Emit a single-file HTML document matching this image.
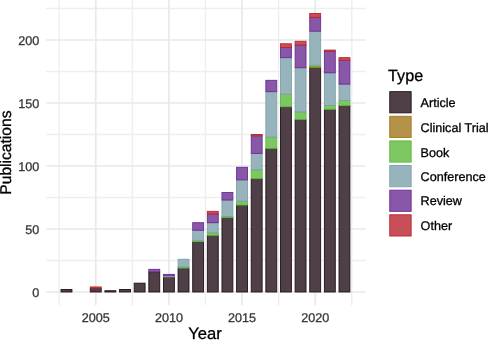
<!DOCTYPE html><html><head><meta charset="utf-8"><style>html,body{margin:0;padding:0;background:#fff;}svg{display:block;will-change:transform;filter:blur(0.3px);}text{font-family:"Liberation Sans",sans-serif;text-rendering:geometricPrecision;}</style></head><body>
<svg width="488" height="340" viewBox="0 0 488 340">
<rect width="488" height="340" fill="#fff"/>
<line x1="46.2" x2="365.5" y1="260.50" y2="260.50" stroke="#eeeeee" stroke-width="1.35"/>
<line x1="46.2" x2="365.5" y1="197.50" y2="197.50" stroke="#eeeeee" stroke-width="1.35"/>
<line x1="46.2" x2="365.5" y1="134.50" y2="134.50" stroke="#eeeeee" stroke-width="1.35"/>
<line x1="46.2" x2="365.5" y1="71.50" y2="71.50" stroke="#eeeeee" stroke-width="1.35"/>
<line x1="46.2" x2="365.5" y1="8.50" y2="8.50" stroke="#eeeeee" stroke-width="1.35"/>
<line x1="59.17" x2="59.17" y1="0.0" y2="305.2" stroke="#eeeeee" stroke-width="1.35"/>
<line x1="132.32" x2="132.32" y1="0.0" y2="305.2" stroke="#eeeeee" stroke-width="1.35"/>
<line x1="205.47" x2="205.47" y1="0.0" y2="305.2" stroke="#eeeeee" stroke-width="1.35"/>
<line x1="278.62" x2="278.62" y1="0.0" y2="305.2" stroke="#eeeeee" stroke-width="1.35"/>
<line x1="351.77" x2="351.77" y1="0.0" y2="305.2" stroke="#eeeeee" stroke-width="1.35"/>
<line x1="46.2" x2="365.5" y1="292.00" y2="292.00" stroke="#e9e9e9" stroke-width="1.7"/>
<line x1="46.2" x2="365.5" y1="229.00" y2="229.00" stroke="#e9e9e9" stroke-width="1.7"/>
<line x1="46.2" x2="365.5" y1="166.00" y2="166.00" stroke="#e9e9e9" stroke-width="1.7"/>
<line x1="46.2" x2="365.5" y1="103.00" y2="103.00" stroke="#e9e9e9" stroke-width="1.7"/>
<line x1="46.2" x2="365.5" y1="40.00" y2="40.00" stroke="#e9e9e9" stroke-width="1.7"/>
<line x1="95.75" x2="95.75" y1="0.0" y2="305.2" stroke="#e9e9e9" stroke-width="1.7"/>
<line x1="168.90" x2="168.90" y1="0.0" y2="305.2" stroke="#e9e9e9" stroke-width="1.7"/>
<line x1="242.05" x2="242.05" y1="0.0" y2="305.2" stroke="#e9e9e9" stroke-width="1.7"/>
<line x1="315.20" x2="315.20" y1="0.0" y2="305.2" stroke="#e9e9e9" stroke-width="1.7"/>
<rect x="61.04" y="289.48" width="10.90" height="2.52" fill="#4f4047" stroke="#231019" stroke-width="0.9"/>
<rect x="90.30" y="288.22" width="10.90" height="3.78" fill="#4f4047" stroke="#231019" stroke-width="0.9"/>
<rect x="90.30" y="286.96" width="10.90" height="1.26" fill="#c84f57" stroke="#ba232d" stroke-width="0.9"/>
<rect x="104.93" y="290.74" width="10.90" height="1.26" fill="#4f4047" stroke="#231019" stroke-width="0.9"/>
<rect x="119.56" y="289.48" width="10.90" height="2.52" fill="#4f4047" stroke="#231019" stroke-width="0.9"/>
<rect x="134.19" y="283.18" width="10.90" height="8.82" fill="#4f4047" stroke="#231019" stroke-width="0.9"/>
<rect x="148.82" y="271.84" width="10.90" height="20.16" fill="#4f4047" stroke="#231019" stroke-width="0.9"/>
<rect x="148.82" y="269.32" width="10.90" height="2.52" fill="#8857a8" stroke="#6a2d92" stroke-width="0.9"/>
<rect x="163.45" y="276.88" width="10.90" height="15.12" fill="#4f4047" stroke="#231019" stroke-width="0.9"/>
<rect x="163.45" y="275.62" width="10.90" height="1.26" fill="#97b3bb" stroke="#7da0aa" stroke-width="0.9"/>
<rect x="163.45" y="274.36" width="10.90" height="1.26" fill="#8857a8" stroke="#6a2d92" stroke-width="0.9"/>
<rect x="178.08" y="268.06" width="10.90" height="23.94" fill="#4f4047" stroke="#231019" stroke-width="0.9"/>
<rect x="178.08" y="266.80" width="10.90" height="1.26" fill="#7dc762" stroke="#5db93b" stroke-width="0.9"/>
<rect x="178.08" y="259.24" width="10.90" height="7.56" fill="#97b3bb" stroke="#7da0aa" stroke-width="0.9"/>
<rect x="192.71" y="241.60" width="10.90" height="50.40" fill="#4f4047" stroke="#231019" stroke-width="0.9"/>
<rect x="192.71" y="240.34" width="10.90" height="1.26" fill="#7dc762" stroke="#5db93b" stroke-width="0.9"/>
<rect x="192.71" y="230.26" width="10.90" height="10.08" fill="#97b3bb" stroke="#7da0aa" stroke-width="0.9"/>
<rect x="192.71" y="222.70" width="10.90" height="7.56" fill="#8857a8" stroke="#6a2d92" stroke-width="0.9"/>
<rect x="207.34" y="235.30" width="10.90" height="56.70" fill="#4f4047" stroke="#231019" stroke-width="0.9"/>
<rect x="207.34" y="232.78" width="10.90" height="2.52" fill="#7dc762" stroke="#5db93b" stroke-width="0.9"/>
<rect x="207.34" y="222.70" width="10.90" height="10.08" fill="#97b3bb" stroke="#7da0aa" stroke-width="0.9"/>
<rect x="207.34" y="213.88" width="10.90" height="8.82" fill="#8857a8" stroke="#6a2d92" stroke-width="0.9"/>
<rect x="207.34" y="211.36" width="10.90" height="2.52" fill="#c84f57" stroke="#ba232d" stroke-width="0.9"/>
<rect x="221.97" y="217.66" width="10.90" height="74.34" fill="#4f4047" stroke="#231019" stroke-width="0.9"/>
<rect x="221.97" y="216.40" width="10.90" height="1.26" fill="#7dc762" stroke="#5db93b" stroke-width="0.9"/>
<rect x="221.97" y="200.02" width="10.90" height="16.38" fill="#97b3bb" stroke="#7da0aa" stroke-width="0.9"/>
<rect x="221.97" y="192.46" width="10.90" height="7.56" fill="#8857a8" stroke="#6a2d92" stroke-width="0.9"/>
<rect x="236.60" y="205.06" width="10.90" height="86.94" fill="#4f4047" stroke="#231019" stroke-width="0.9"/>
<rect x="236.60" y="201.28" width="10.90" height="3.78" fill="#7dc762" stroke="#5db93b" stroke-width="0.9"/>
<rect x="236.60" y="179.86" width="10.90" height="21.42" fill="#97b3bb" stroke="#7da0aa" stroke-width="0.9"/>
<rect x="236.60" y="167.26" width="10.90" height="12.60" fill="#8857a8" stroke="#6a2d92" stroke-width="0.9"/>
<rect x="251.23" y="178.60" width="10.90" height="113.40" fill="#4f4047" stroke="#231019" stroke-width="0.9"/>
<rect x="251.23" y="169.78" width="10.90" height="8.82" fill="#7dc762" stroke="#5db93b" stroke-width="0.9"/>
<rect x="251.23" y="153.40" width="10.90" height="16.38" fill="#97b3bb" stroke="#7da0aa" stroke-width="0.9"/>
<rect x="251.23" y="135.76" width="10.90" height="17.64" fill="#8857a8" stroke="#6a2d92" stroke-width="0.9"/>
<rect x="251.23" y="134.50" width="10.90" height="1.26" fill="#c84f57" stroke="#ba232d" stroke-width="0.9"/>
<rect x="265.86" y="148.36" width="10.90" height="143.64" fill="#4f4047" stroke="#231019" stroke-width="0.9"/>
<rect x="265.86" y="137.02" width="10.90" height="11.34" fill="#7dc762" stroke="#5db93b" stroke-width="0.9"/>
<rect x="265.86" y="91.66" width="10.90" height="45.36" fill="#97b3bb" stroke="#7da0aa" stroke-width="0.9"/>
<rect x="265.86" y="80.32" width="10.90" height="11.34" fill="#8857a8" stroke="#6a2d92" stroke-width="0.9"/>
<rect x="280.49" y="106.78" width="10.90" height="185.22" fill="#4f4047" stroke="#231019" stroke-width="0.9"/>
<rect x="280.49" y="94.18" width="10.90" height="12.60" fill="#7dc762" stroke="#5db93b" stroke-width="0.9"/>
<rect x="280.49" y="57.64" width="10.90" height="36.54" fill="#97b3bb" stroke="#7da0aa" stroke-width="0.9"/>
<rect x="280.49" y="47.56" width="10.90" height="10.08" fill="#8857a8" stroke="#6a2d92" stroke-width="0.9"/>
<rect x="280.49" y="43.78" width="10.90" height="3.78" fill="#c84f57" stroke="#ba232d" stroke-width="0.9"/>
<rect x="295.12" y="119.38" width="10.90" height="172.62" fill="#4f4047" stroke="#231019" stroke-width="0.9"/>
<rect x="295.12" y="111.82" width="10.90" height="7.56" fill="#7dc762" stroke="#5db93b" stroke-width="0.9"/>
<rect x="295.12" y="67.72" width="10.90" height="44.10" fill="#97b3bb" stroke="#7da0aa" stroke-width="0.9"/>
<rect x="295.12" y="45.04" width="10.90" height="22.68" fill="#8857a8" stroke="#6a2d92" stroke-width="0.9"/>
<rect x="295.12" y="41.26" width="10.90" height="3.78" fill="#c84f57" stroke="#ba232d" stroke-width="0.9"/>
<rect x="309.75" y="67.72" width="10.90" height="224.28" fill="#4f4047" stroke="#231019" stroke-width="0.9"/>
<rect x="309.75" y="66.46" width="10.90" height="1.26" fill="#b5924a" stroke="#a2771d" stroke-width="0.9"/>
<rect x="309.75" y="65.20" width="10.90" height="1.26" fill="#7dc762" stroke="#5db93b" stroke-width="0.9"/>
<rect x="309.75" y="31.18" width="10.90" height="34.02" fill="#97b3bb" stroke="#7da0aa" stroke-width="0.9"/>
<rect x="309.75" y="17.32" width="10.90" height="13.86" fill="#8857a8" stroke="#6a2d92" stroke-width="0.9"/>
<rect x="309.75" y="13.54" width="10.90" height="3.78" fill="#c84f57" stroke="#ba232d" stroke-width="0.9"/>
<rect x="324.38" y="109.30" width="10.90" height="182.70" fill="#4f4047" stroke="#231019" stroke-width="0.9"/>
<rect x="324.38" y="105.52" width="10.90" height="3.78" fill="#7dc762" stroke="#5db93b" stroke-width="0.9"/>
<rect x="324.38" y="72.76" width="10.90" height="32.76" fill="#97b3bb" stroke="#7da0aa" stroke-width="0.9"/>
<rect x="324.38" y="51.34" width="10.90" height="21.42" fill="#8857a8" stroke="#6a2d92" stroke-width="0.9"/>
<rect x="324.38" y="50.08" width="10.90" height="1.26" fill="#c84f57" stroke="#ba232d" stroke-width="0.9"/>
<rect x="339.01" y="105.52" width="10.90" height="186.48" fill="#4f4047" stroke="#231019" stroke-width="0.9"/>
<rect x="339.01" y="100.48" width="10.90" height="5.04" fill="#7dc762" stroke="#5db93b" stroke-width="0.9"/>
<rect x="339.01" y="84.10" width="10.90" height="16.38" fill="#97b3bb" stroke="#7da0aa" stroke-width="0.9"/>
<rect x="339.01" y="60.16" width="10.90" height="23.94" fill="#8857a8" stroke="#6a2d92" stroke-width="0.9"/>
<rect x="339.01" y="57.64" width="10.90" height="2.52" fill="#c84f57" stroke="#ba232d" stroke-width="0.9"/>
<text x="39.2" y="296.70" font-size="12.6" fill="#383838" stroke="#383838" stroke-width="0.3" text-anchor="end">0</text>
<text x="39.2" y="233.70" font-size="12.6" fill="#383838" stroke="#383838" stroke-width="0.3" text-anchor="end">50</text>
<text x="39.2" y="170.70" font-size="12.6" fill="#383838" stroke="#383838" stroke-width="0.3" text-anchor="end">100</text>
<text x="39.2" y="107.70" font-size="12.6" fill="#383838" stroke="#383838" stroke-width="0.3" text-anchor="end">150</text>
<text x="39.2" y="44.70" font-size="12.6" fill="#383838" stroke="#383838" stroke-width="0.3" text-anchor="end">200</text>
<text x="95.75" y="321.5" font-size="12.6" fill="#383838" stroke="#383838" stroke-width="0.3" text-anchor="middle">2005</text>
<text x="168.90" y="321.5" font-size="12.6" fill="#383838" stroke="#383838" stroke-width="0.3" text-anchor="middle">2010</text>
<text x="242.05" y="321.5" font-size="12.6" fill="#383838" stroke="#383838" stroke-width="0.3" text-anchor="middle">2015</text>
<text x="315.20" y="321.5" font-size="12.6" fill="#383838" stroke="#383838" stroke-width="0.3" text-anchor="middle">2020</text>
<text x="205.1" y="339.4" font-size="16.6" fill="#000" stroke="#000" stroke-width="0.3" text-anchor="middle">Year</text>
<text transform="translate(11.3,152.6) rotate(-90)" x="0" y="0" font-size="15.6" fill="#000" stroke="#000" stroke-width="0.3" text-anchor="middle">Publications</text>
<text x="388.1" y="80.6" font-size="16.2" fill="#000" stroke="#000" stroke-width="0.3">Type</text>
<rect x="389.75" y="91.65" width="21.40" height="21.20" fill="#4f4047" stroke="#231019" stroke-width="0.9"/>
<text x="420.6" y="107" font-size="12.6" fill="#000" stroke="#000" stroke-width="0.3">Article</text>
<rect x="389.75" y="116.28" width="21.40" height="21.20" fill="#b5924a" stroke="#a2771d" stroke-width="0.9"/>
<text x="420.6" y="132" font-size="12.6" fill="#000" stroke="#000" stroke-width="0.3">Clinical Trial</text>
<rect x="389.75" y="140.91" width="21.40" height="21.20" fill="#7dc762" stroke="#5db93b" stroke-width="0.9"/>
<text x="420.6" y="157" font-size="12.6" fill="#000" stroke="#000" stroke-width="0.3">Book</text>
<rect x="389.75" y="165.54" width="21.40" height="21.20" fill="#97b3bb" stroke="#7da0aa" stroke-width="0.9"/>
<text x="420.6" y="181" font-size="12.6" fill="#000" stroke="#000" stroke-width="0.3">Conference</text>
<rect x="389.75" y="190.17" width="21.40" height="21.20" fill="#8857a8" stroke="#6a2d92" stroke-width="0.9"/>
<text x="420.6" y="205" font-size="12.6" fill="#000" stroke="#000" stroke-width="0.3">Review</text>
<rect x="389.75" y="214.80" width="21.40" height="21.20" fill="#c84f57" stroke="#ba232d" stroke-width="0.9"/>
<text x="420.6" y="230" font-size="12.6" fill="#000" stroke="#000" stroke-width="0.3">Other</text>
</svg></body></html>
